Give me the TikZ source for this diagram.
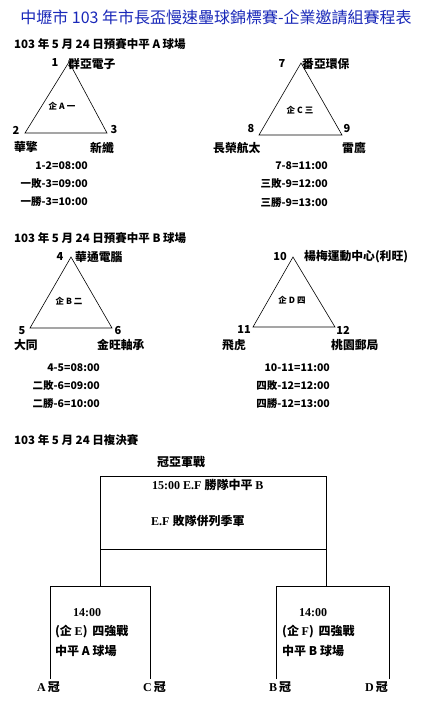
\documentclass[tikz,border=0pt]{standalone}
\usepackage{fontspec}
\setmainfont{Noto Sans CJK TC}
\newfontfamily\cjk{Noto Sans CJK TC}
\newfontfamily\rom{Liberation Serif}
\definecolor{titleblue}{RGB}{25,40,185}
\newcommand{\R}[1]{{\rom\bfseries #1}}
\begin{document}
\begin{tikzpicture}[x=1pt,y=-1pt,
  lbl/.style={inner sep=0pt,font=\cjk\bfseries\fontsize{11.8}{13}\selectfont},
  num/.style={inner sep=0pt,font=\cjk\bfseries\fontsize{11}{13}\selectfont},
  sched/.style={inner sep=0pt,anchor=east,font=\cjk\bfseries\fontsize{10.5}{12}\selectfont},
  grp/.style={inner sep=0pt,font=\cjk\bfseries\fontsize{8.5}{10}\selectfont},
  head/.style={inner sep=0pt,anchor=west,font=\cjk\bfseries\fontsize{11.5}{13}\selectfont},
  boxtxt/.style={inner sep=0pt,anchor=west,font=\cjk\bfseries\fontsize{12}{14}\selectfont},
  tri/.style={draw,line width=0.6pt},
  brk/.style={draw,line width=0.9pt}]
\useasboundingbox (0,0) rectangle (424,705);
\fill[white] (0,0) rectangle (424,705);
% title
\node[inner sep=0pt,text=titleblue,font=\cjk\fontsize{16}{18}\selectfont] (title) at (216,17) {中壢市 103 年市長盃慢速壘球錦標賽-企業邀請組賽程表};
% headings
\node[head] (h1) at (14,44) {103 年 5 月 24 日預賽中平 A 球場};
\node[head] (h2) at (14,238) {103 年 5 月 24 日預賽中平 B 球場};
\node[head] (h3) at (14,440) {103 年 5 月 24 日複決賽};

% Triangle A
\coordinate (a1) at (69,62);
\coordinate (a2) at (25,133);
\coordinate (a3) at (107,133);
\draw[tri] (a1) -- (a2) -- (a3) -- cycle;
\node[num] (n1) at (55,63) {1};
\node[lbl,anchor=west] (t1) at (68,64) {群亞電子};
\node[num] (n2) at (16,130) {2};
\node[num] (n3) at (114,130) {3};
\node[lbl,anchor=west] (t2) at (14,147) {華擎};
\node[lbl,anchor=west] (t3) at (90,148) {新纖};
\node[grp] (ga) at (62,106) {企 A 一};
\node[sched] (sa1) at (88,166) {1-2=08:00};
\node[sched] (sa2) at (88,184) {一敗-3=09:00};
\node[sched] (sa3) at (88,202) {一勝-3=10:00};

% Triangle C
\coordinate (c7) at (301,63);
\coordinate (c8) at (259,135);
\coordinate (c9) at (342,135);
\draw[tri] (c7) -- (c8) -- (c9) -- cycle;
\node[num] (n7) at (282,64) {7};
\node[lbl,anchor=west] (t7) at (302,64) {番亞環保};
\node[num] (n8) at (251,129) {8};
\node[num] (n9) at (347,129) {9};
\node[lbl,anchor=west] (t8) at (213,148) {長榮航太};
\node[lbl,anchor=west] (t9) at (342,148) {雷鷹};
\node[grp] (gc) at (300,110) {企 C 三};
\node[sched] (sc1) at (328,166) {7-8=11:00};
\node[sched] (sc2) at (328,184) {三敗-9=12:00};
\node[sched] (sc3) at (328,203) {三勝-9=13:00};

% Triangle B
\coordinate (b4) at (71,257);
\coordinate (b5) at (30,328);
\coordinate (b6) at (112,328);
\draw[tri] (b4) -- (b5) -- (b6) -- cycle;
\node[num] (n4) at (60,257) {4};
\node[lbl,anchor=west] (t4) at (75,257) {華通電腦};
\node[num] (n5) at (22,331) {5};
\node[num] (n6) at (118,331) {6};
\node[lbl,anchor=west] (t5) at (14,345) {大同};
\node[lbl,anchor=west] (t6) at (97,345) {金旺軸承};
\node[grp] (gb) at (69,301) {企 B 二};
\node[sched] (sb1) at (100,368) {4-5=08:00};
\node[sched] (sb2) at (100,386) {二敗-6=09:00};
\node[sched] (sb3) at (100,404) {二勝-6=10:00};

% Triangle D
\coordinate (d10) at (293,257);
\coordinate (d11) at (253,327);
\coordinate (d12) at (335,327);
\draw[tri] (d10) -- (d11) -- (d12) -- cycle;
\node[num] (n10) at (280,257) {10};
\node[lbl,anchor=west] (t10) at (304,257) {楊梅運動中心(利旺)};
\node[num] (n11) at (244,330) {11};
\node[num] (n12) at (343,330) {12};
\node[lbl,anchor=west] (t11) at (222,345) {飛虎};
\node[lbl,anchor=west] (t12) at (331,345) {桃園郵局};
\node[grp] (gd) at (292,300) {企 D 四};
\node[sched] (sd1) at (330,368) {10-11=11:00};
\node[sched] (sd2) at (330,386) {四敗-12=12:00};
\node[sched] (sd3) at (330,404) {四勝-12=13:00};

% Bracket
\coordinate (fTL) at (100,476);
\coordinate (fBR) at (326,549);
\coordinate (fBL) at (100,549);
\coordinate (fBRr) at (326,549);
\coordinate (eTop) at (100,586);
\coordinate (fTop) at (326,586);
\coordinate (eL) at (50,586);
\coordinate (eR) at (150,586);
\coordinate (fL) at (276,586);
\coordinate (fR) at (389,586);
\coordinate (eLb) at (50,679);
\coordinate (eRb) at (150,679);
\coordinate (fLb) at (276,679);
\coordinate (fRb) at (389,679);
\draw[brk] (fTL) rectangle (fBR);
\draw[brk] (fBL) -- (eTop);
\draw[brk] (fBRr) -- (fTop);
\draw[brk] (eLb) -- (eL) -- (eR) -- (eRb);
\draw[brk] (fLb) -- (fL) -- (fR) -- (fRb);

\node[boxtxt] (final) at (157,462) {冠亞軍戰};
\node[boxtxt] (f1) at (152,485) {\R{15:00 E.F }勝隊中平 \R{B}};
\node[boxtxt] (f2) at (151,521) {\R{E.F }敗隊併列季軍};
\node[boxtxt] (e1) at (73,613) {\R{14:00}};
\node[boxtxt] (e2) at (55,632) {(企 \R{E})\, 四強戰};
\node[boxtxt] (e3) at (55,651) {中平 A 球場};
\node[boxtxt] (g1) at (299,613) {\R{14:00}};
\node[boxtxt] (g2) at (282,632) {(企 \R{F})\, 四強戰};
\node[boxtxt] (g3) at (282,651) {中平 B 球場};
\node[boxtxt] (ac) at (37,687) {\R{A}\,冠};
\node[boxtxt] (cc) at (143,687) {\R{C}\,冠};
\node[boxtxt] (bc) at (269,687) {\R{B}\,冠};
\node[boxtxt] (dc) at (365,687) {\R{D}\,冠};
\end{tikzpicture}
\end{document}
